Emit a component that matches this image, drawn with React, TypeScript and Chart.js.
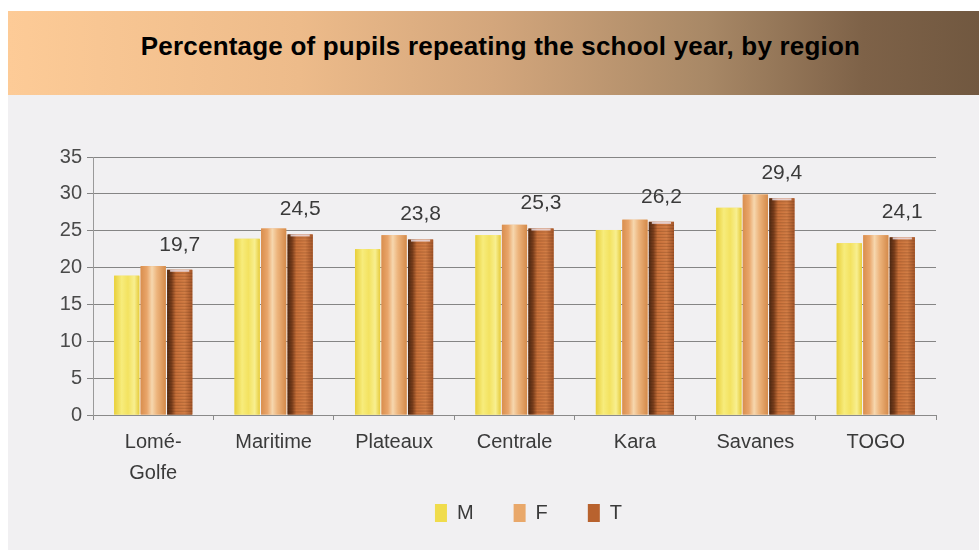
import React, { useEffect, useRef } from "react";
import { Chart, registerables } from "chart.js";

Chart.register(...registerables);

const categories: (string | string[])[] = [["Lomé-", "Golfe"], "Maritime", "Plateaux", "Centrale", "Kara", "Savanes", "TOGO"];
const seriesNames = ["M", "F", "T"];
const valuesM = [18.9, 23.9, 22.5, 24.4, 25.1, 28.1, 23.3];
const valuesF = [20.2, 25.3, 24.4, 25.8, 26.5, 29.9, 24.4];
const valuesT = [19.7, 24.5, 23.8, 25.3, 26.2, 29.4, 24.1];
const yMin = 0;
const yMax = 35;
const yStep = 5;

const FONT = "'Liberation Sans', Arial, Helvetica, sans-serif";
const solidColors = ["#F0DC4C", "#E9A86A", "#B8622E"];

const gradientStops: [number, string][][] = [
  [[0, "#E8CF3A"], [0.3, "#F7EC7C"], [0.55, "#F3E260"], [0.8, "#F8EF90"], [1, "#E6CC3C"]],
  [[0, "#D98E4E"], [0.25, "#E9A56A"], [0.45, "#F6D7AE"], [0.65, "#EDB47C"], [1, "#D48A4A"]],
  [[0, "#4E2A14"], [0.18, "#7A3E1C"], [0.35, "#C9713A"], [0.7, "#D27D45"], [1, "#A4562A"]],
];

const barShading = {
  id: "barShading",
  afterDatasetsDraw(chart: any) {
    const ctx = chart.ctx;
    ctx.save();
    chart.data.datasets.forEach((_ds: any, di: number) => {
      const meta = chart.getDatasetMeta(di);
      meta.data.forEach((el: any) => {
        const { x, y, base, width } = el.getProps(["x", "y", "base", "width"], true);
        const l = x - width / 2;
        const g = ctx.createLinearGradient(l, 0, l + width, 0);
        gradientStops[di].forEach(([o, c]) => g.addColorStop(o, c));
        ctx.fillStyle = g;
        ctx.fillRect(l, y, width, base - y);
        if (di === 2) {
          ctx.fillStyle = "rgba(70,30,8,0.22)";
          for (let yy = y + 3; yy < base; yy += 3) ctx.fillRect(l, yy, width, 1);
          ctx.fillStyle = "rgba(235,225,235,0.8)";
          ctx.fillRect(l + 3, y, width - 6, 2);
        }
      });
    });
    ctx.restore();
  },
};

const valueLabels = {
  id: "valueLabels",
  afterDatasetsDraw(chart: any) {
    const ctx = chart.ctx;
    const meta = chart.getDatasetMeta(2);
    ctx.save();
    ctx.font = `21px ${FONT}`;
    ctx.fillStyle = "#3a3a3a";
    ctx.textAlign = "center";
    ctx.textBaseline = "middle";
    meta.data.forEach((el: any, i: number) => {
      const { x, y } = el.getProps(["x", "y"], true);
      ctx.fillText(String(valuesT[i]).replace(".", ","), x, y - 25);
    });
    ctx.restore();
  },
};

const legendShift = {
  id: "legendShift",
  afterLayout(chart: any) {
    const lg = chart.legend;
    if (lg) {
      lg.left += 14;
      lg.right += 14;
      lg.top -= 30;
      lg.bottom -= 30;
    }
  },
};

export default function App() {
  const ref = useRef<HTMLCanvasElement | null>(null);

  useEffect(() => {
    if (!ref.current) return;
    const chart = new Chart(ref.current, {
      type: "bar",
      data: {
        labels: categories as any,
        datasets: [
          { label: seriesNames[0], data: valuesM, backgroundColor: solidColors[0], borderWidth: 0 },
          { label: seriesNames[1], data: valuesF, backgroundColor: solidColors[1], borderWidth: 0 },
          { label: seriesNames[2], data: valuesT, backgroundColor: solidColors[2], borderWidth: 0 },
        ],
      },
      options: {
        responsive: false,
        animation: false,
        devicePixelRatio: 1,
        datasets: { bar: { categoryPercentage: 0.66, barPercentage: 0.95 } } as any,
        layout: { padding: { top: 62, left: 0, right: 43, bottom: -13 } },
        plugins: {
          title: { display: false },
          tooltip: { enabled: false },
          legend: {
            position: "bottom",
            fullSize: false,
            labels: {
              boxWidth: 12,
              boxHeight: 18,
              padding: 40,
              color: "#3a3a3a",
              font: { family: FONT, size: 20 },
            },
          },
        },
        scales: {
          x: {
            offset: true,
            grid: { display: true, drawOnChartArea: false, drawTicks: true, tickLength: 5, color: "#8a8a8a" },
            border: { display: true, color: "#8a8a8a" },
            ticks: {
              color: "#3a3a3a",
              padding: 7,
              maxRotation: 0,
              autoSkip: false,
              font: { family: FONT, size: 20, lineHeight: 1.55 },
            },
            afterFit: (s: any) => {
              s.height = 78;
            },
          },
          y: {
            min: yMin,
            max: yMax,
            ticks: {
              stepSize: yStep,
              color: "#4a4a4a",
              padding: 5,
              font: { family: FONT, size: 20 },
            },
            grid: { color: "#858585", lineWidth: 1, tickLength: 6 },
            border: { display: true, color: "#9a9a9a" },
            afterFit: (s: any) => {
              s.width = 85;
            },
          },
        },
      },
      plugins: [barShading, valueLabels, legendShift],
    });
    return () => chart.destroy();
  }, []);

  return (
    <div style={{ position: "fixed", left: 0, top: 0, width: 979, height: 550, background: "#ffffff", overflow: "hidden" }}>
      <div
        style={{
          position: "absolute",
          left: 8,
          top: 95,
          width: 971,
          height: 455,
          background: "#F1F0F2",
        }}
      />
      <div
        style={{
          position: "absolute",
          left: 8,
          top: 11,
          width: 971,
          height: 84,
          background: "linear-gradient(to right, #FDCB97 0%, #EDBB8A 30%, #D3A67C 50%, #A88866 72%, #7E6248 88%, #715840 100%)",
          display: "flex",
          alignItems: "center",
          justifyContent: "center",
        }}
      >
        <div
          style={{
            fontFamily: FONT,
            fontWeight: "bold",
            fontSize: 26,
            letterSpacing: 0.2,
            color: "#000",
            marginTop: -14,
            marginLeft: 14,
            whiteSpace: "nowrap",
          }}
        >
          Percentage of pupils repeating the school year, by region
        </div>
      </div>
      <canvas ref={ref} width={971} height={455} style={{ position: "absolute", left: 8, top: 95 }} />
    </div>
  );
}
